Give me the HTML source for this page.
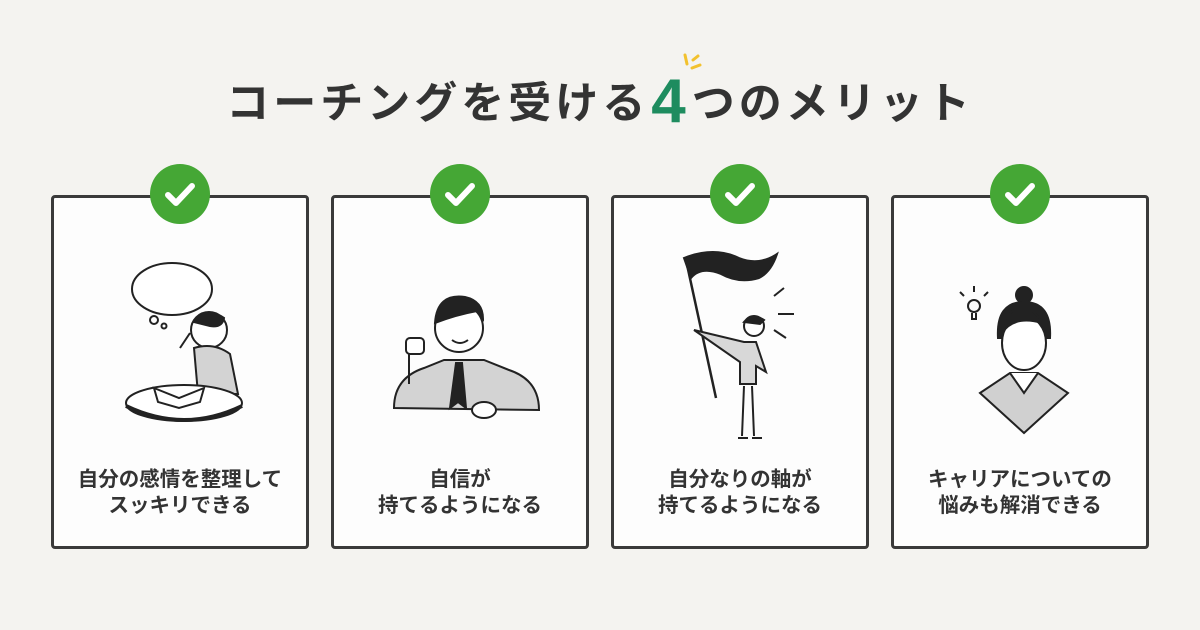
<!DOCTYPE html>
<html><head><meta charset="utf-8"><style>
body{margin:0;width:1200px;height:630px;background:#f4f3f0;position:relative;overflow:hidden;font-family:"Liberation Sans","Noto Sans CJK JP",sans-serif;color:#333}
.title{position:absolute;left:0;width:1200px;top:72px;text-align:center;font-size:43px;font-weight:bold;letter-spacing:4px;line-height:60px;color:#333}
.title .n{color:#1e8c5f;font-size:62px;font-family:"Liberation Sans",sans-serif;letter-spacing:0;vertical-align:-4px;margin:0 6px 0 2px}
.card{position:absolute;top:195px;width:252px;height:348px;border:3px solid #3a3a3a;border-radius:4px;background:#fdfdfd}
.chk{position:absolute;top:164px;width:60px;height:60px;border-radius:50%;background:#45a735}
.chk svg{position:absolute;left:0;top:0}
.txt{position:absolute;left:0;right:0;top:269px;text-align:center;font-size:20.5px;font-weight:bold;line-height:26px;color:#333}
.ill{position:absolute;left:0;top:40px}
</style></head><body>
<div class="title">コーチングを受ける<span class="n">4</span>つのメリット</div>
<svg style="position:absolute;left:680px;top:52px" width="30" height="26"><g stroke="#f2c12e" stroke-width="3" stroke-linecap="round"><line x1="5" y1="3" x2="7" y2="12"/><line x1="13" y1="8" x2="18" y2="4"/><line x1="12" y1="16" x2="20" y2="13"/></g></svg>

<div class="card" style="left:51px"><div class="ill"><svg width="252" height="220" fill="none" stroke="#222" stroke-width="2">
<ellipse cx="118" cy="51" rx="40" ry="26" fill="#fff"/><circle cx="100" cy="82" r="4"/><circle cx="110" cy="88" r="2.5"/>
<circle cx="155" cy="92" r="18" fill="#fff"/><path d="M140 84 q12 -16 30 -4 q-2 10 -14 8 z" fill="#222"/>
<path d="M140 110 q20 -6 36 6 l8 40 h-40 z" fill="#d3d3d3"/>
<ellipse cx="130" cy="165" rx="58" ry="18" fill="#fff"/><path d="M72 168 q58 28 116 0" stroke-width="4"/>
<path d="M100 150 l25 10 l25 -10 l-4 14 l-21 6 l-21 -6z" fill="#fff"/>
<line x1="126" y1="110" x2="136" y2="95"/></svg></div>
<div class="txt">自分の感情を整理して<br>スッキリできる</div></div>

<div class="card" style="left:331px"><div class="ill"><svg width="252" height="220" fill="none" stroke="#222" stroke-width="2">
<path d="M60 170 q0 -30 30 -40 l20 -8 l40 0 l25 10 q30 10 30 40 z" fill="#d3d3d3"/>
<path d="M122 125 l-6 45 l8 -6 l8 6 l-4 -45z" fill="#222"/>
<circle cx="125" cy="90" r="24" fill="#fff"/><path d="M101 85 q2 -30 30 -26 q18 4 18 22 l-6 -8 q-22 4 -42 12z" fill="#222"/>
<path d="M118 102 q8 6 16 0" fill="#fff"/>
<rect x="72" y="100" width="18" height="16" rx="4" fill="#fff"/><path d="M75 116 l0 30"/>
<ellipse cx="150" cy="172" rx="12" ry="8" fill="#fff"/></svg></div>
<div class="txt">自信が<br>持てるようになる</div></div>

<div class="card" style="left:611px"><div class="ill"><svg width="252" height="220" fill="none" stroke="#222" stroke-width="2">
<line x1="72" y1="22" x2="102" y2="160" stroke-width="2.5"/>
<path d="M70 20 q30 -12 55 0 q20 8 38 -4 q-6 18 -18 24 q-20 6 -38 -4 q-20 -8 -30 4 z" fill="#222"/>
<circle cx="140" cy="88" r="10" fill="#fff"/><path d="M130 84 q8 -10 20 -2 l-4 4z" fill="#222"/>
<path d="M80 92 l50 12 l12 0 l10 30 l-10 -6 l0 18 l-16 0 l0 -22 z" fill="#d8d8d8"/>
<path d="M130 148 l-2 50 M138 148 l2 50"/><path d="M124 200 h10 M138 200 h10"/>
<path d="M160 58 l10 -8 M164 76 h16 M160 92 l12 8"/></svg></div>
<div class="txt">自分なりの軸が<br>持てるようになる</div></div>

<div class="card" style="left:891px"><div class="ill"><svg width="252" height="220" fill="none" stroke="#222" stroke-width="2">
<circle cx="130" cy="57" r="8" fill="#222"/>
<path d="M104 100 q-2 -36 26 -36 q28 0 26 36 z" fill="#222"/>
<ellipse cx="130" cy="105" rx="22" ry="27" fill="#fff"/>
<path d="M108 95 q12 -18 40 -10 q-6 -14 -20 -14 q-18 0 -20 24z" fill="#222"/>
<path d="M86 155 l30 -20 h28 l30 20 l-44 40 z" fill="#d0d0d0"/>
<path d="M116 135 l14 20 l14 -20" fill="#fff"/>
<circle cx="80" cy="68" r="6"/><path d="M78 75 v6 h4 v-6"/><path d="M70 58 l-4 -4 M80 54 v-6 M90 58 l4 -4"/></svg></div>
<div class="txt">キャリアについての<br>悩みも解消できる</div></div>

<div class="chk" style="left:150px"><svg width="60" height="60"><path d="M18 31 l8 8 l16 -17" fill="none" stroke="#fff" stroke-width="6" stroke-linecap="round" stroke-linejoin="round"/></svg></div>
<div class="chk" style="left:430px"><svg width="60" height="60"><path d="M18 31 l8 8 l16 -17" fill="none" stroke="#fff" stroke-width="6" stroke-linecap="round" stroke-linejoin="round"/></svg></div>
<div class="chk" style="left:710px"><svg width="60" height="60"><path d="M18 31 l8 8 l16 -17" fill="none" stroke="#fff" stroke-width="6" stroke-linecap="round" stroke-linejoin="round"/></svg></div>
<div class="chk" style="left:990px"><svg width="60" height="60"><path d="M18 31 l8 8 l16 -17" fill="none" stroke="#fff" stroke-width="6" stroke-linecap="round" stroke-linejoin="round"/></svg></div>
</body></html>
